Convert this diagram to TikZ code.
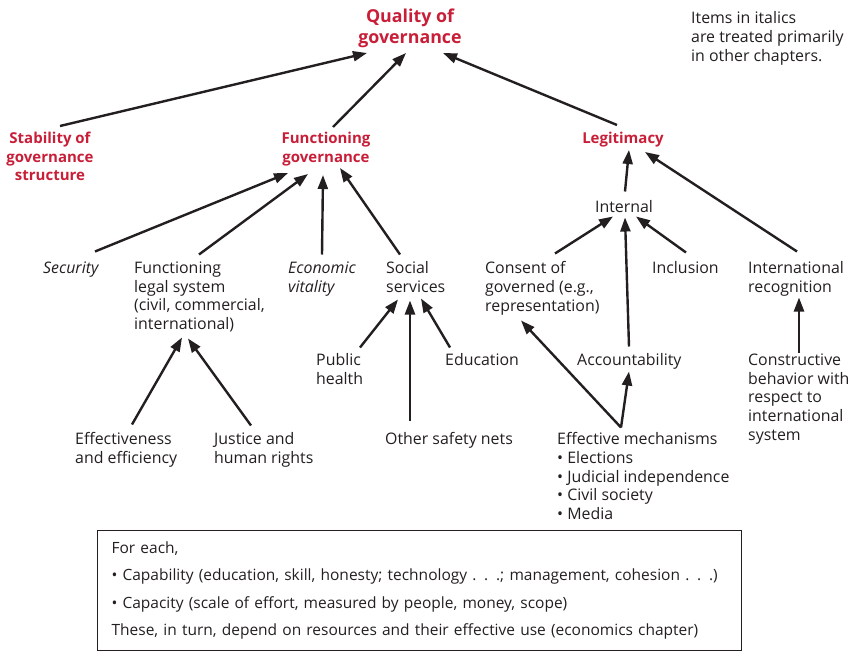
\documentclass[tikz,border=0pt]{standalone}
\usepackage{fontspec}
\setmainfont{Open Sans}
\usetikzlibrary{arrows.meta,calc}
\definecolor{titlered}{RGB}{200,30,56}
\definecolor{ink}{RGB}{35,31,32}
\tikzset{
  txt/.style={inner sep=0pt, align=left, anchor=north west, text=ink, yshift=-0.5pt, font=\fontsize{15.9}{18.7}\selectfont},
  ttl/.style={inner sep=0pt, align=center, anchor=north, text=titlered, font=\fontsize{15}{18.5}\selectfont\bfseries},
  arr/.style={line width=2.4pt, draw=ink, -{Triangle[length=14pt,width=10pt]}},
}
\begin{document}
\begin{tikzpicture}[x=1pt,y=-1pt]
\useasboundingbox (0,0) rectangle (854,656);
% titles
\node[ttl, font=\fontsize{17.8}{21}\selectfont\bfseries] (q) at (410,9) {Quality of\\governance};
\node[ttl] (stab) at (50,132) {Stability of\\governance\\structure};
\node[ttl] (fg) at (326,132) {Functioning\\governance};
\node[ttl] (leg) at (623,132) {Legitimacy};
% note
\node[txt] (note) at (691,11) {Items in italics\\are treated primarily\\in other chapters.};
% second level
\node[txt, anchor=north] (internal) at (624,200) {Internal};
\node[txt] (sec) at (43,261) {\itshape Security};
\node[txt] (legal) at (134,261) {Functioning\\legal system\\(civil, commercial,\\international)};
\node[txt] (econ) at (288,261) {\itshape Economic\\\itshape vitality};
\node[txt] (social) at (386,261) {Social\\services};
\node[txt] (consent) at (485,261) {Consent of\\governed (e.g.,\\representation)};
\node[txt] (incl) at (652,261) {Inclusion};
\node[txt] (intrec) at (748,261) {International\\recognition};
% third level
\node[txt] (pub) at (316,353) {Public\\health};
\node[txt] (edu) at (445,353) {Education};
\node[txt] (acc) at (577,353) {Accountability};
\node[txt] (constr) at (748,353) {Constructive\\behavior with\\respect to\\international\\system};
% fourth level
\node[txt] (eff) at (75,432) {Effectiveness\\and efficiency};
\node[txt] (just) at (214,432) {Justice and\\human rights};
\node[txt] (other) at (385,432) {Other safety nets};
\node[txt] (mech) at (557,432) {Effective mechanisms\\• Elections\\• Judicial independence\\• Civil society\\• Media};
% box
\node[draw=ink, line width=1.2pt, anchor=north west, minimum width=644pt, minimum height=120pt,
      inner xsep=14pt, inner ysep=0pt, text width=616pt, align=left, text=ink,
      font=\fontsize{15.5}{27.4}\selectfont] (box) at (97,530)
  {For each,\\• Capability (education, skill, honesty; technology . . .; management, cohesion . . .)\\• Capacity (scale of effort, measured by people, money, scope)\\These, in turn, depend on resources and their effective use (economics chapter)};
% arrows
\draw[arr] ($(stab.north)+(10,-6)$) -- ($(q.north)+(-43,44)$);
\draw[arr] ($(fg.north)+(7,-5)$) -- ($(q.north)+(-4,44)$);
\draw[arr] ($(leg.north)+(-6,-7)$) -- ($(q.north)+(33,44)$);
\draw[arr] ($(sec.north west)+(52,-10)$) -- ($(fg.north)+(-38,41)$);
\draw[arr] ($(legal.north west)+(65,-7)$) -- ($(fg.north)+(-18,42)$);
\draw[arr] ($(econ.north west)+(34,-7)$) -- ($(fg.north)+(-3,43)$);
\draw[arr] ($(social.north west)+(14,-7)$) -- ($(fg.north)+(14,36)$);
\draw[arr] ($(internal.north)+(1,-9)$) -- ($(leg.north)+(6,18)$);
\draw[arr] ($(intrec.north west)+(49,-10)$) -- ($(leg.north)+(22,20)$);
\draw[arr] ($(consent.north west)+(70,-8)$) -- ($(internal.north)+(-11,16)$);
\draw[arr] ($(acc.north west)+(52,-7)$) -- ($(internal.north)+(1,17)$);
\draw[arr] ($(incl.north west)+(34,-9)$) -- ($(internal.north)+(12,16)$);
\draw[arr] ($(constr.north west)+(51,-1)$) -- ($(intrec.north west)+(51,36)$);
\draw[arr] ($(mech.north west)+(64,-5)$) -- ($(consent.north west)+(36,59)$);
\draw[arr] ($(mech.north west)+(64,-5)$) -- ($(acc.north west)+(52,18)$);
\draw[arr] ($(pub.north west)+(44,-6)$) -- ($(social.north west)+(12,38)$);
\draw[arr] ($(other.north west)+(25,-12)$) -- ($(social.north west)+(24,39)$);
\draw[arr] ($(edu.north west)+(5,-6)$) -- ($(social.north west)+(35,37)$);
\draw[arr] ($(eff.north west)+(57,-8)$) -- ($(legal.north west)+(48,76)$);
\draw[arr] ($(just.north west)+(37,-7)$) -- ($(legal.north west)+(54,77)$);
\end{tikzpicture}
\end{document}
